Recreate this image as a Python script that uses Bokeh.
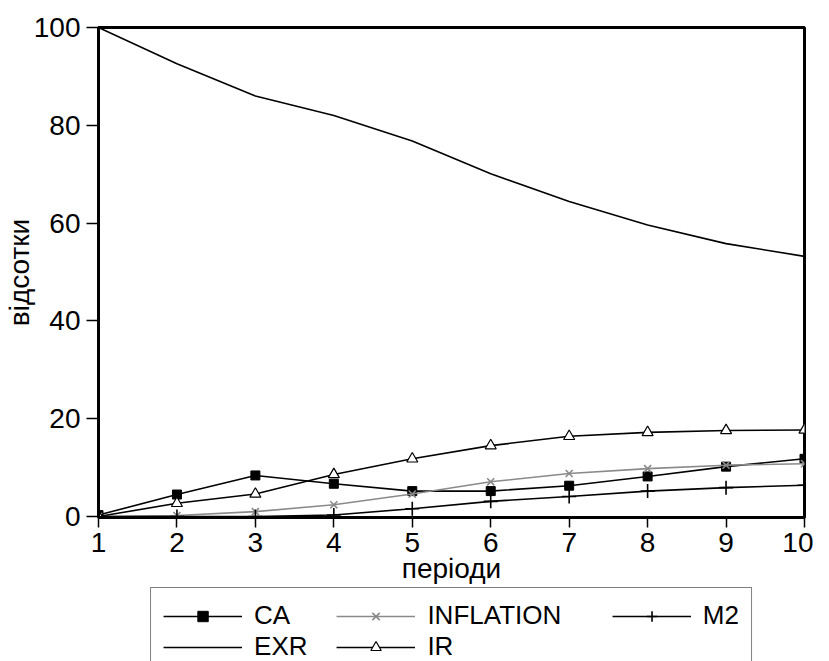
from bokeh.plotting import figure
from bokeh.layouts import column
from bokeh.models import Range1d, Legend, LegendItem, FixedTicker
from bokeh.embed import file_html
from bokeh.resources import INLINE

periods = [1, 2, 3, 4, 5, 6, 7, 8, 9, 10]
ca = [0.3, 4.5, 8.4, 6.7, 5.2, 5.2, 6.3, 8.2, 10.2, 11.8]
inflation = [0.0, 0.2, 1.0, 2.4, 4.6, 7.1, 8.8, 9.8, 10.5, 10.8]
m2 = [0.0, 0.0, 0.0, 0.3, 1.6, 3.1, 4.1, 5.2, 5.9, 6.4]
exr = [100.0, 92.6, 86.0, 82.0, 76.8, 70.1, 64.4, 59.6, 55.8, 53.2]
ir = [0.0, 2.7, 4.6, 8.6, 11.8, 14.5, 16.4, 17.2, 17.6, 17.7]
y_ticks = [0, 20, 40, 60, 80, 100]
x_title = "періоди"
y_title = "відсотки"

FONT = "Liberation Sans"
FS = "28px"
LFS = "26px"
GRAY = "#8a8a8a"
W = 813
H1 = 587

p = figure(width=W, height=H1, x_range=Range1d(1, 10), y_range=Range1d(-0.2, 100),
           output_backend="svg", toolbar_location=None,
           min_border_left=90, min_border_right=9, min_border_top=27, min_border_bottom=70)
p.background_fill_color = "white"
p.border_fill_color = "white"
p.grid.visible = False
p.outline_line_color = "black"
p.outline_line_width = 3
p.outline_line_alpha = 1.0

lw = 1.6
styles = {
    "ca_l": dict(line_color="black", line_width=lw),
    "ca_m": dict(marker="square", size=9, fill_color="black", line_color="black"),
    "inf_l": dict(line_color=GRAY, line_width=lw),
    "inf_m": dict(marker="x", size=10, line_color=GRAY, line_width=1.6),
    "m2_l": dict(line_color="black", line_width=lw),
    "m2_m": dict(marker="cross", size=14, line_color="black", line_width=1.6),
    "exr_l": dict(line_color="black", line_width=lw),
    "ir_l": dict(line_color="black", line_width=lw),
    "ir_m": dict(marker="triangle", size=11, fill_color="white", line_color="black", line_width=1.2),
}
# smaller markers for the legend samples
legend_marker_size = {"ca_m": 6, "inf_m": 7, "m2_m": 10, "ir_m": 7}

p.line(periods, ca, **styles["ca_l"])
p.scatter(periods, ca, **styles["ca_m"])
p.line(periods, inflation, **styles["inf_l"])
p.scatter(periods, inflation, **styles["inf_m"])
p.line(periods, m2, **styles["m2_l"])
p.scatter(periods, m2, **styles["m2_m"])
p.line(periods, exr, **styles["exr_l"])
p.line(periods, ir, **styles["ir_l"])
p.scatter(periods, ir, **styles["ir_m"])

for ax in (p.xaxis[0], p.yaxis[0]):
    ax.axis_line_width = 3
    ax.axis_line_color = "black"
    ax.major_tick_in = 0
    ax.minor_tick_line_color = None
    ax.major_tick_line_width = 1.5
    ax.major_tick_line_color = "black"
    ax.major_label_text_font = FONT
    ax.major_label_text_font_size = FS
    ax.major_label_text_color = "black"
    ax.axis_label_text_font = FONT
    ax.axis_label_text_font_size = FS
    ax.axis_label_text_font_style = "normal"
    ax.axis_label_text_color = "black"

p.xaxis.ticker = FixedTicker(ticks=periods)
p.yaxis.ticker = FixedTicker(ticks=y_ticks)
p.xaxis.major_tick_out = 10
p.yaxis.major_tick_out = 12
p.xaxis.major_label_standoff = 5
p.yaxis.major_label_standoff = 6
p.xaxis.axis_label = x_title
p.xaxis.axis_label_standoff = -2
p.yaxis.axis_label = y_title
p.yaxis.axis_label_standoff = -4

# legend strip below the chart
H2 = 661 - H1
q = figure(width=W, height=H2, x_range=Range1d(1, 10), y_range=Range1d(200, 200 + H2),
           output_backend="svg", toolbar_location=None,
           min_border_left=90, min_border_right=9, min_border_top=0, min_border_bottom=0,
           x_axis_type=None, y_axis_type=None)
q.grid.visible = False
q.outline_line_color = None
q.background_fill_color = "white"
q.border_fill_color = "white"


def legend_style(key):
    s = dict(styles[key])
    if key in legend_marker_size:
        s["size"] = legend_marker_size[key]
    return s


# same series, drawn outside this strip's visible range; only their legend glyphs show
d_ca_l = q.line(periods, ca, **legend_style("ca_l"))
d_ca_m = q.scatter(periods, ca, **legend_style("ca_m"))
d_inf_l = q.line(periods, inflation, **legend_style("inf_l"))
d_inf_m = q.scatter(periods, inflation, **legend_style("inf_m"))
d_m2_l = q.line(periods, m2, **legend_style("m2_l"))
d_m2_m = q.scatter(periods, m2, **legend_style("m2_m"))
d_exr_l = q.line(periods, exr, **legend_style("exr_l"))
d_ir_l = q.line(periods, ir, **legend_style("ir_l"))
d_ir_m = q.scatter(periods, ir, **legend_style("ir_m"))

legend = Legend(items=[
    LegendItem(label="CA", renderers=[d_ca_l, d_ca_m]),
    LegendItem(label="INFLATION       ", renderers=[d_inf_l, d_inf_m]),
    LegendItem(label="M2", renderers=[d_m2_l, d_m2_m]),
    LegendItem(label="EXR    ", renderers=[d_exr_l]),
    LegendItem(label="IR", renderers=[d_ir_l, d_ir_m]),
], orientation="horizontal", ncols=3, location="top_center")
legend.border_line_color = "black"
legend.border_line_width = 1.5
legend.padding = 12
legend.spacing = 0
legend.margin = 0
legend.glyph_width = 79
legend.glyph_height = 26
legend.label_standoff = 12
legend.label_height = 26
legend.label_width = 0
legend.label_text_font = FONT
legend.label_text_font_size = LFS
legend.label_text_color = "black"
legend.background_fill_color = "white"
legend.background_fill_alpha = 1.0
q.add_layout(legend, "center")

layout = column(p, q, spacing=0)
open("out.html", "w").write(file_html(layout, INLINE))
